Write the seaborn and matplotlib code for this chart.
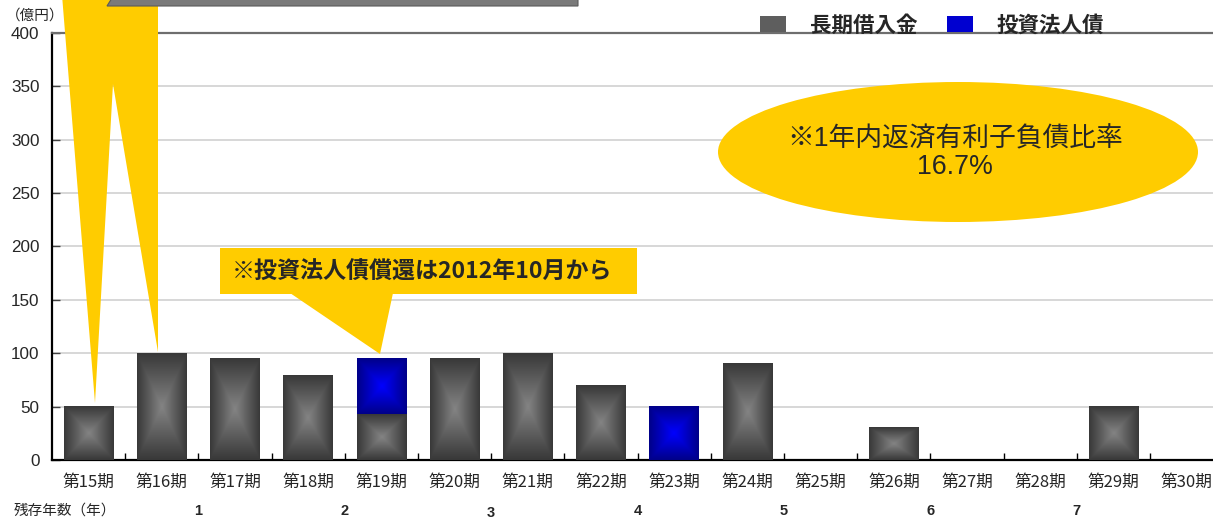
import numpy as np
import pandas as pd
import matplotlib
matplotlib.use("Agg")
import matplotlib.pyplot as plt
import matplotlib.transforms as mtransforms
from matplotlib.patches import Polygon, Rectangle, Ellipse, Patch
import seaborn as sns

# ---- data -------------------------------------------------------------
periods = ["第15期", "第16期", "第17期", "第18期", "第19期", "第20期", "第21期", "第22期",
           "第23期", "第24期", "第25期", "第26期", "第27期", "第28期", "第29期", "第30期"]
long_term_loans = [50, 100, 95, 79, 43, 95, 100, 70, 0, 90, 0, 30, 0, 0, 50, 0]   # 長期借入金
investment_bonds = [0, 0, 0, 0, 52, 0, 0, 0, 50, 0, 0, 0, 0, 0, 0, 0]             # 投資法人債
series_names = ["長期借入金", "投資法人債"]
y_ticks = [0, 50, 100, 150, 200, 250, 300, 350, 400]
remaining_years = ["1", "2", "3", "4", "5", "6", "7"]
year_boundary_after = ["第16期", "第18期", "第20期", "第22期", "第24期", "第26期", "第28期"]
ratio_title = "※1年内返済有利子負債比率"
ratio_value = "16.7%"
bond_note = "※投資法人債償還は2012年10月から"

# ---- style ------------------------------------------------------------
sns.set_style("white")
plt.rcParams["font.family"] = ["Liberation Sans", "Noto Sans CJK JP", "DejaVu Sans"]
JP = ["Noto Sans CJK JP", "DejaVu Sans"]

W, H = 1213, 519
YELLOW = "#FFCC00"


def fx(x):
    return x / W


def fy(y):
    return 1 - y / H


fig = plt.figure(figsize=(W / 100, H / 100), dpi=100)
ax = fig.add_axes([fx(52), fy(460), 16 * 73.2 / W, (460 - 33) / H])

df = pd.DataFrame({"period": periods, "loan": long_term_loans, "bond": investment_bonds})

BAR_W = 0.68
sns.barplot(data=df, x="period", y="loan", color="#5a5a5a", saturation=1,
            width=BAR_W, errorbar=None, ax=ax, zorder=3, linewidth=0)
n_loan = len(ax.patches)
sns.barplot(data=df, x="period", y="bond", color="#0000c0", saturation=1,
            width=BAR_W, errorbar=None, ax=ax, zorder=3, linewidth=0)
# stack the bond bars on top of the loans
for patch, base in zip(ax.patches[n_loan:], long_term_loans):
    patch.set_y(base)


def rect_gradient(center, edge, n=256):
    u = np.linspace(-1, 1, n)
    uu, vv = np.meshgrid(u, u)
    d = np.maximum(np.abs(uu), np.abs(vv))[..., None]
    c = np.array(matplotlib.colors.to_rgb(center))
    e = np.array(matplotlib.colors.to_rgb(edge))
    return c * (1 - d) + e * d


gray_img = rect_gradient("#848484", "#383838")
blue_img = rect_gradient("#0000ff", "#000088")

for i, patch in enumerate(list(ax.patches)):
    h = patch.get_height()
    if h <= 0:
        patch.set_visible(False)
        continue
    x0, y0, w = patch.get_x(), patch.get_y(), patch.get_width()
    img = gray_img if i < n_loan else blue_img
    ax.imshow(img, extent=[x0, x0 + w, y0, y0 + h], aspect="auto",
              interpolation="bilinear", zorder=3.5)

ax.set_xlim(-0.5, len(periods) - 0.5)
ax.set_ylim(0, 400)
ax.set_xlabel("")
ax.set_ylabel("")

# axes frame
for side in ["left", "bottom"]:
    ax.spines[side].set_color("black")
    ax.spines[side].set_linewidth(1.6)
ax.spines["top"].set_color("#6e6e6e")
ax.spines["top"].set_linewidth(1.6)
ax.spines["right"].set_visible(False)

ax.set_yticks(y_ticks)
ax.set_yticklabels([str(v) for v in y_ticks], fontsize=12.3)
ax.tick_params(axis="y", direction="in", length=6, width=1, color="#404040", pad=9, left=True)
ax.yaxis.grid(True, color="#d4d4d4", linewidth=1.3)
ax.set_axisbelow(True)

ax.set_xticks(range(len(periods)))
ax.set_xticklabels(periods, fontsize=12, family=JP)
ax.tick_params(axis="x", length=0, pad=10)
ax.set_xticks(np.arange(0.5, len(periods) - 0.5, 1.0), minor=True)
ax.tick_params(axis="x", which="minor", direction="in", length=5, width=1, color="black", bottom=True)

# unit label and remaining-years row
fig.text(fx(6), fy(16), "（億円）", fontsize=10.5, family=JP, ha="left", va="center")
fig.text(fx(14), fy(511), "残存年数（年）", fontsize=10.5, family=JP, ha="left", va="center")
blend = mtransforms.blended_transform_factory(ax.transData, fig.transFigure)
for label, after in zip(remaining_years, year_boundary_after):
    pos = periods.index(after) + 0.5
    yy = 513 if label == "3" else 511
    ax.text(pos, fy(yy), label, transform=blend, fontsize=10.5, fontweight="bold",
            ha="center", va="center", clip_on=False)

# legend
handles = [Patch(facecolor="#5e5e5e", edgecolor="none"),
           Patch(facecolor="#0000d0", edgecolor="none")]
leg = fig.legend(handles, series_names, loc="center left", bbox_to_anchor=(fx(760), fy(25)),
                 ncol=2, frameon=False, borderpad=0, borderaxespad=0,
                 handlelength=1.2, handleheight=0.75, handletextpad=1.1, columnspacing=1.4,
                 prop={"family": JP, "weight": "bold", "size": 15.5})

# yellow pointers from the heading box
for pts in ([(62, -5), (118, -5), (95, 403)], [(98, -5), (158, -5), (158, 352)]):
    fig.add_artist(Polygon([(fx(x), fy(y)) for x, y in pts], closed=True, transform=fig.transFigure,
                           facecolor=YELLOW, edgecolor="none", zorder=5))
fig.add_artist(Polygon([(fx(x), fy(y)) for x, y in [(107, 6), (112, -2), (578, -2), (578, 6)]],
                       closed=True, transform=fig.transFigure, facecolor="#7a7a7a",
                       edgecolor="#5a5a5a", linewidth=0.8, zorder=6))

# ratio ellipse
fig.add_artist(Ellipse((fx(958), fy(152)), 480 / W, 140 / H, transform=fig.transFigure,
                       facecolor=YELLOW, edgecolor="none", zorder=5))
fig.text(fx(955), fy(139), ratio_title, fontsize=19.3, ha="center", va="center", zorder=7)
fig.text(fx(955), fy(167), ratio_value, fontsize=19.3, ha="center", va="center", zorder=7)

# bond redemption callout
fig.add_artist(Rectangle((fx(220), fy(294)), 417 / W, 46 / H, transform=fig.transFigure,
                         facecolor=YELLOW, edgecolor="none", zorder=5))
fig.add_artist(Polygon([(fx(x), fy(y)) for x, y in [(290, 293), (393, 293), (380, 354)]],
                       closed=True, transform=fig.transFigure, facecolor=YELLOW,
                       edgecolor="none", zorder=5))
fig.text(fx(232), fy(272), bond_note, fontsize=16.6, fontweight="bold", family=JP,
         ha="left", va="center", zorder=7)

fig.savefig("out.png", dpi=100)
